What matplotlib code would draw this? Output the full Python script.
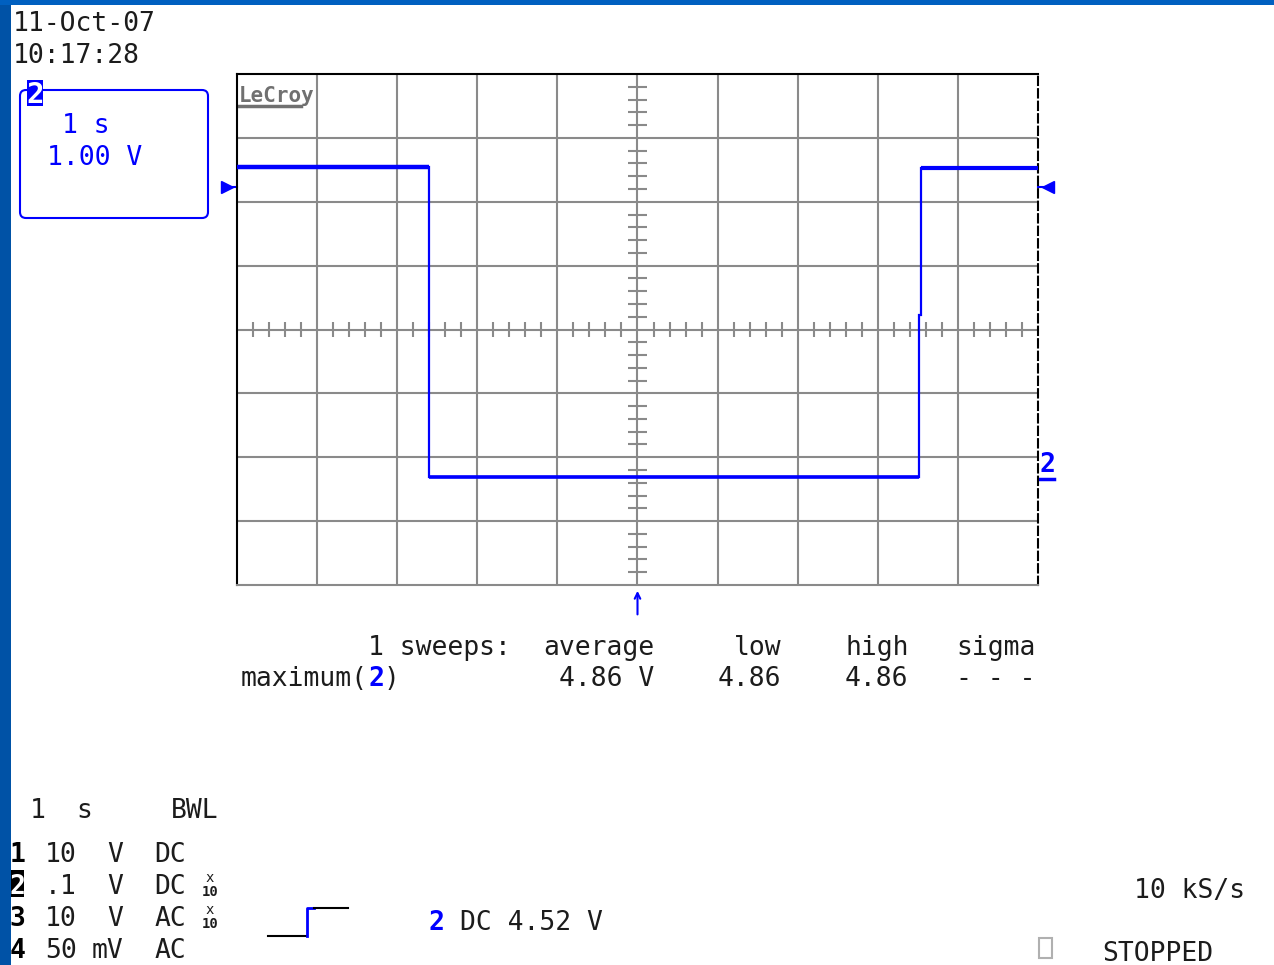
import numpy as np
import matplotlib
matplotlib.use("Agg")
import matplotlib.pyplot as plt
from matplotlib.patches import Rectangle, FancyBboxPatch

W, H = 1274, 965
MONO = "DejaVu Sans Mono"
BLUE = "#0000ff"
INK = "#1c1c1c"
GRID = "#8a8a8a"

# screen: 10 div x 1 s, 8 div x 1 V
x_divs = 10
y_divs = 8
sec_per_div = 1.0
volt_per_div = 1.0

# channel 2 trace (s, V)
trace_t = [-5.0, -2.60, -2.60, 3.52, 3.52, 3.545, 3.545, 5.0]
trace_v = [2.55, 2.55, -2.31, -2.31, 0.23, 0.23, 2.53, 2.53]
ground_v = 2.23
trigger_t = 0.0

# readouts
date_str = "11-Oct-07"
time_str = "10:17:28"
box_time = "1 s"
box_volt = "1.00 V"
meas_head = ["1 sweeps:", "average", "low", "high", "sigma"]
meas_vals = ["maximum(", "4.86 V", "4.86", "4.86", "- - -"]
chan_rows = [("1", "10", "V", "DC", False),
             ("2", ".1", "V", "DC", True),
             ("3", "10", "V", "AC", True),
             ("4", "50", "mV", "AC", False)]
trig_str = "DC 4.52 V"
rate_str = "10 kS/s"
status_str = "STOPPED"

fig = plt.figure(figsize=(W / 100, H / 100), dpi=100)
fig.patch.set_facecolor("white")

# overlay in pixel coordinates for the screen furniture
deco = fig.add_axes([0, 0, 1, 1])
deco.set_xlim(0, W)
deco.set_ylim(H, 0)
deco.axis("off")
deco.add_patch(Rectangle((0, 0), 11, H, color="#0052a6", lw=0))
deco.add_patch(Rectangle((0, 0), W, 5, color="#0060c0", lw=0))

# graticule
left, right, top, bottom = 237, 1038, 74, 585
ax = fig.add_axes([left / W, 1 - bottom / H, (right - left) / W, (bottom - top) / H])
ax.set_facecolor("none")
ax.set_xlim(-x_divs / 2 * sec_per_div, x_divs / 2 * sec_per_div)
ax.set_ylim(-y_divs / 2 * volt_per_div, y_divs / 2 * volt_per_div)
ax.set_xticks([])
ax.set_yticks([])
for i in range(1, x_divs):
    ax.axvline(-5 + i, color=GRID, lw=1.5, zorder=1)
for i in range(1, y_divs):
    ax.axhline(-4 + i, color=GRID, lw=1.5, zorder=1)
minor_x = [v for v in np.arange(-5, 5.001, 0.2) if abs(v - round(v)) > 1e-6]
minor_y = [v for v in np.arange(-4, 4.001, 0.2) if abs(v - round(v)) > 1e-6]
ax.vlines(minor_x, -0.11, 0.11, color=GRID, lw=1.5, zorder=1)
ax.hlines(minor_y, -0.12, 0.12, color=GRID, lw=1.5, zorder=1)
for side in ["left", "top"]:
    ax.spines[side].set_color("black")
    ax.spines[side].set_linewidth(1.5)
ax.spines["right"].set_color("black")
ax.spines["right"].set_linestyle((0, (4, 2)))
ax.spines["right"].set_linewidth(1.5)
ax.spines["bottom"].set_color(GRID)
ax.spines["bottom"].set_linewidth(1.5)

# trace
ax.plot(trace_t, trace_v, color=BLUE, lw=1.6, zorder=3, solid_joinstyle="miter")
ax.hlines([trace_v[0]], trace_t[0], trace_t[1], color=BLUE, lw=3.2, zorder=3)
ax.hlines([trace_v[2]], trace_t[2], trace_t[3], color=BLUE, lw=2.6, zorder=3)
ax.hlines([trace_v[-1]], trace_t[-2], trace_t[-1], color=BLUE, lw=3.0, zorder=3)

# ground markers
yx = ax.get_yaxis_transform()
ax.plot([-0.016, 0], [ground_v, ground_v], color=BLUE, lw=1.5, transform=yx, clip_on=False)
ax.plot([-0.013], [ground_v], marker=">", ms=9, color=BLUE, transform=yx, clip_on=False)
ax.plot([1, 1.016], [ground_v, ground_v], color=BLUE, lw=1.5, transform=yx, clip_on=False)
ax.plot([1.013], [ground_v], marker="<", ms=9, color=BLUE, transform=yx, clip_on=False)

# trigger arrow
ax.annotate("", xy=(trigger_t, -0.006), xytext=(trigger_t, -0.063),
            xycoords=ax.get_xaxis_transform(), textcoords=ax.get_xaxis_transform(),
            arrowprops=dict(arrowstyle="->", color=BLUE, lw=1.5), annotation_clip=False)

# LeCroy logo
deco.text(239, 102, "LeCroy", family=MONO, fontsize=15, weight="bold", color="#707070",
          ha="left", va="baseline")
deco.plot([239, 301], [106, 106], color="#707070", lw=2.5)

# date / time
deco.text(13, 31, date_str, family=MONO, fontsize=19, color=INK, va="baseline")
deco.text(13, 63, time_str, family=MONO, fontsize=19, color=INK, va="baseline")

# channel box
deco.add_patch(FancyBboxPatch((20, 90), 188, 128, boxstyle="round,pad=0,rounding_size=6",
                              fill=False, ec=BLUE, lw=1.5))
deco.add_patch(Rectangle((27, 80), 16, 26, color=BLUE, lw=0))
deco.text(35, 103, "2", family=MONO, fontsize=21, weight="bold", color="white",
          ha="center", va="baseline")
deco.text(62, 133, box_time, family=MONO, fontsize=19, color=BLUE, va="baseline")
deco.text(47, 165, box_volt, family=MONO, fontsize=19, color=BLUE, va="baseline")

# right-hand channel label
deco.text(1047, 472, "2", family=MONO, fontsize=19, weight="bold", color=BLUE,
          ha="center", va="baseline")
deco.plot([1040, 1054], [479, 479], color=BLUE, lw=2.5)

# measurement table
col = 15.9
x0 = 368
head_cols = [0, 11, 23, 30, 37]
for c, s in zip(head_cols, meas_head):
    deco.text(x0 + c * col, 655, s, family=MONO, fontsize=19, color=INK, va="baseline")
val_cols = [-8, 12, 22, 30, 37]
for c, s in zip(val_cols, meas_vals):
    deco.text(x0 + c * col, 686, s, family=MONO, fontsize=19, color=INK, va="baseline")
deco.text(x0 + 0 * col, 686, "2", family=MONO, fontsize=19, weight="bold", color=BLUE,
          va="baseline")
deco.text(x0 + 1 * col, 686, ")", family=MONO, fontsize=19, color=INK, va="baseline")

# bottom-left channel list
bcol = 15.6
deco.text(30, 818, "1", family=MONO, fontsize=19, color=INK, va="baseline")
deco.text(30 + 3 * bcol, 818, "s", family=MONO, fontsize=19, color=INK, va="baseline")
deco.text(30 + 9 * bcol, 818, "BWL", family=MONO, fontsize=19, color=INK, va="baseline")
for k, (num, val, unit, cpl, x10) in enumerate(chan_rows):
    base = 862 + 32 * k
    if num == "2":
        deco.add_patch(Rectangle((11, base - 24), 13, 27, color="black", lw=0))
        deco.text(17.5, base, num, family=MONO, fontsize=19, weight="bold", color="white",
                  ha="center", va="baseline")
    else:
        deco.text(17.5, base, num, family=MONO, fontsize=19, weight="bold", color="black",
                  ha="center", va="baseline")
    deco.text(45, base, val, family=MONO, fontsize=19, color=INK, va="baseline")
    deco.text(45 + 3 * bcol if unit == "mV" else 45 + 4 * bcol, base, unit,
              family=MONO, fontsize=19, color=INK, va="baseline")
    deco.text(45 + 7 * bcol, base, cpl, family=MONO, fontsize=19, color=INK, va="baseline")
    if x10:
        deco.text(210, base - 12, "x", family=MONO, fontsize=10, color=INK,
                  ha="center", va="baseline")
        deco.text(210, base + 2, "10", family=MONO, fontsize=10, weight="bold", color=INK,
                  ha="center", va="baseline")

# trigger icon
deco.plot([268, 306], [936, 936], color="black", lw=1.5)
deco.plot([307, 307, 314], [936, 908, 908], color=BLUE, lw=2)
deco.plot([314, 348], [908, 908], color="black", lw=1.5)
deco.text(436, 930, "2", family=MONO, fontsize=19, weight="bold", color=BLUE,
          ha="center", va="baseline")
deco.text(460, 930, trig_str, family=MONO, fontsize=19, color=INK, va="baseline")

# bottom-right status
deco.text(1245, 898, rate_str, family=MONO, fontsize=19, color=INK, ha="right", va="baseline")
deco.add_patch(Rectangle((1039, 938), 13, 20, fill=False, ec="#b0b0b0", lw=1.5))
deco.text(1102, 961, status_str, family=MONO, fontsize=19, color=INK, va="baseline")

fig.savefig("out.png", dpi=100)
